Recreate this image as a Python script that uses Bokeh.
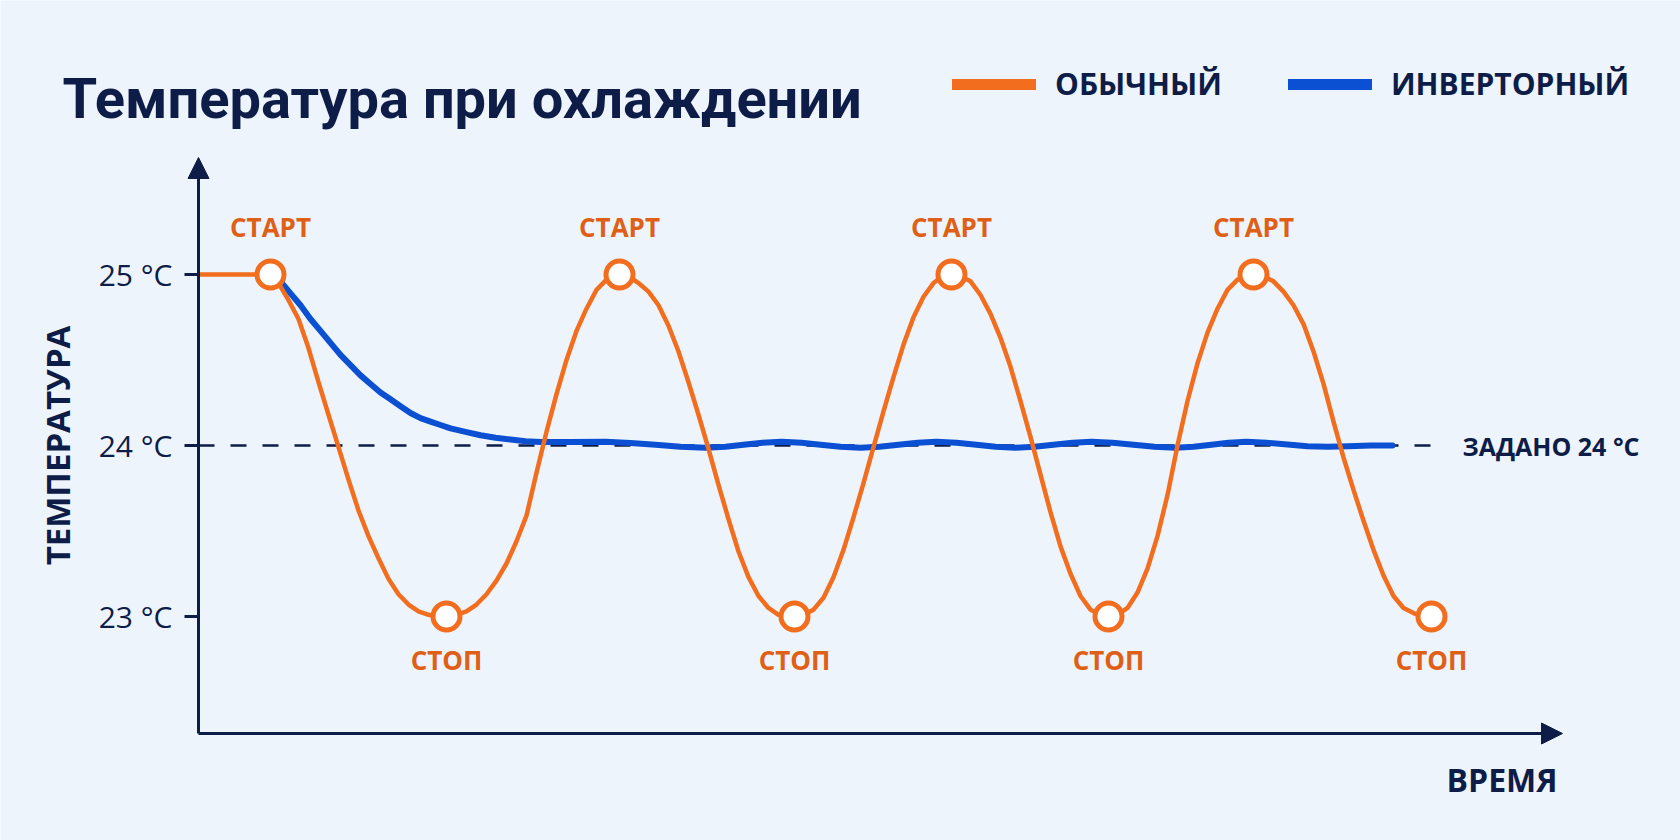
import math
import numpy as np
from bokeh.plotting import figure
from bokeh.models import (Range1d, FixedTicker, Arrow, NormalHead, Label,
                          Legend, LegendItem)
from bokeh.core.properties import value
from bokeh.embed import file_html
from bokeh.resources import INLINE

# ---------------- data ----------------
title_text = "Температура при охлаждении"
series_names = ["ОБЫЧНЫЙ", "ИНВЕРТОРНЫЙ"]
y_axis_title = "ТЕМПЕРАТУРА"
x_axis_title = "ВРЕМЯ"
start_label = "СТАРТ"
stop_label = "СТОП"

temp_ticks = [23, 24, 25]
tick_labels = ["23 °C", "24 °C", "25 °C"]
setpoint = 24
setpoint_time = [0, 124.0]

# conventional (on/off) unit
time_regular = [0, 7.2, 8.0, 9.0, 10.0, 11.0, 12.0, 13.0, 14.0, 15.0, 16.0, 17.0,
                18.0, 19.0, 20.0, 21.0, 22.0, 23.0, 24.0, 24.8,
                25.8, 26.8, 27.8, 28.8, 29.8, 30.8, 31.8, 32.8, 33.8, 34.8,
                35.8, 36.8, 37.8, 38.8, 39.8, 40.8, 41.5, 42.1,
                43.0, 44.0, 45.0, 46.0, 47.0, 48.0, 49.0, 50.0, 51.0, 52.0,
                53.0, 54.0, 55.0, 56.0, 57.0, 58.0, 59.6,
                60.5, 61.5, 62.5, 63.5, 64.5, 65.5, 66.5, 67.5, 68.5, 69.5,
                70.5, 71.5, 72.5, 73.5, 74.4, 75.3,
                76.2, 77.2, 78.2, 79.2, 80.2, 81.2, 82.2, 83.2, 84.2, 85.2,
                86.2, 87.2, 88.2, 89.2, 90.1, 91.0,
                91.9, 92.9, 93.9, 94.9, 95.9, 96.9, 97.9, 98.9, 99.9, 100.9,
                101.9, 102.9, 103.9, 104.7, 105.5,
                106.5, 107.5, 108.5, 109.5, 110.5, 111.5, 112.5, 113.5, 114.5,
                115.5, 116.5, 117.5, 118.5, 119.5, 120.5, 121.5, 122.4, 123.3]
temp_regular = [25.0, 25.0, 24.95, 24.85, 24.74, 24.57, 24.37, 24.18, 23.99, 23.80,
                23.62, 23.47, 23.34, 23.22, 23.13, 23.07, 23.03, 23.01, 23.0, 23.0,
                23.01, 23.03, 23.07, 23.13, 23.21, 23.31, 23.44, 23.59, 23.84, 24.08,
                24.30, 24.50, 24.67, 24.80, 24.91, 24.97, 24.99, 25.0,
                24.99, 24.95, 24.90, 24.82, 24.70, 24.55, 24.37, 24.18, 23.98, 23.77,
                23.57, 23.38, 23.23, 23.12, 23.05, 23.01, 23.0,
                23.01, 23.04, 23.11, 23.23, 23.39, 23.58, 23.78, 23.99, 24.20, 24.40,
                24.59, 24.75, 24.87, 24.95, 24.99, 25.0,
                24.99, 24.96, 24.88, 24.77, 24.63, 24.46, 24.26, 24.05, 23.83, 23.61,
                23.41, 23.25, 23.12, 23.04, 23.01, 23.0,
                23.01, 23.05, 23.14, 23.28, 23.47, 23.71, 24.0, 24.26, 24.48, 24.66,
                24.80, 24.91, 24.97, 24.99, 25.0,
                24.99, 24.96, 24.90, 24.82, 24.71, 24.55, 24.36, 24.14, 23.93,
                23.74, 23.56, 23.39, 23.24, 23.12, 23.05, 23.02, 23.0, 23.0]

start_time = [7.2, 42.1, 75.3, 105.5]
start_temp = [25, 25, 25, 25]
stop_time = [24.8, 59.6, 91.0, 123.3]
stop_temp = [23, 23, 23, 23]

# inverter unit
time_inverter = [7.2, 8.2, 9.2, 10.2, 11.2, 12.2, 13.2, 14.2, 15.2, 16.2, 17.2,
                 18.2, 19.2, 20.2, 21.2, 22.2, 23.2, 24.2, 25.2, 26.7, 28.2,
                 29.7, 31.2, 32.7, 34.2, 37.2, 40.7, 43.2, 45.7, 48.2, 50.7,
                 52.7, 54.5, 56.4, 58.3, 60.3, 62.2, 64.2, 66.2, 68.1, 70.0,
                 71.9, 73.8, 75.8, 77.8, 79.7, 81.7, 83.6, 85.5, 87.4, 89.3,
                 91.4, 93.5, 95.6, 97.7, 99.5, 101.3, 103.0, 104.8, 106.8, 108.9,
                 110.9, 112.9, 115.0, 117.2, 119.4]
temp_inverter = [25.0, 24.96, 24.89, 24.82, 24.74, 24.67, 24.60, 24.53, 24.47, 24.41, 24.36,
                 24.31, 24.27, 24.23, 24.19, 24.16, 24.14, 24.12, 24.10, 24.08, 24.06,
                 24.045, 24.035, 24.025, 24.02, 24.02, 24.022, 24.015, 24.004, 23.993, 23.987,
                 23.993, 24.005, 24.016, 24.022, 24.016, 24.004, 23.993, 23.987, 23.993, 24.005,
                 24.016, 24.022, 24.016, 24.004, 23.993, 23.987, 23.993, 24.005, 24.016, 24.022,
                 24.016, 24.004, 23.993, 23.987, 23.993, 24.005, 24.016, 24.022, 24.016, 24.006,
                 23.996, 23.992, 23.996, 24.0, 24.0]

# ---------------- styling / layout ----------------
BG = "#edf4fb"
NAVY = "#0e1c48"
ORANGE = "#f26d1d"
ORANGE_TXT = "#e05f17"
BLUE = "#0b4fd3"
FONT = "Open Sans"
TITLE_FONT = "Roboto"

W, H = 1680, 840
AXIS_X_PX, AXIS_Y_PX = 198, 733      # where the two axes sit on the page
PX_PER_T = 10.0
PX_PER_DEG = 171.0
Y24_PX = 445


def t_at(px):
    return (px - AXIS_X_PX) / PX_PER_T


def v_at(py):
    return 24 + (Y24_PX - py) / PX_PER_DEG


p = figure(width=W, height=H, output_backend="svg", toolbar_location=None,
           x_range=Range1d(t_at(0), t_at(W)),
           y_range=Range1d(v_at(H), v_at(0)),
           min_border=0, min_border_left=0, min_border_right=0,
           min_border_top=0, min_border_bottom=0)
p.background_fill_color = BG
p.border_fill_color = BG
p.outline_line_color = None
p.grid.visible = False

# x axis
xa = p.xaxis[0]
xa.fixed_location = v_at(AXIS_Y_PX)
xa.ticker = FixedTicker(ticks=[])
xa.bounds = (0, t_at(1540))
xa.axis_line_color = NAVY
xa.axis_line_width = 3
xa.major_tick_line_color = None
xa.minor_tick_line_color = None
xa.major_label_text_font_size = "0px"

# y axis
ya = p.yaxis[0]
ya.fixed_location = 0
ya.ticker = FixedTicker(ticks=temp_ticks)
ya.major_label_overrides = {t: l for t, l in zip(temp_ticks, tick_labels)}
ya.bounds = (v_at(AXIS_Y_PX), v_at(175))
ya.axis_line_color = NAVY
ya.axis_line_width = 3
ya.major_tick_line_color = NAVY
ya.major_tick_line_width = 3
ya.major_tick_out = 14
ya.major_tick_in = 0
ya.minor_tick_line_color = None
ya.major_label_standoff = 12
ya.major_label_text_font = FONT
ya.major_label_text_font_size = "30px"
ya.major_label_text_color = NAVY

# arrow heads
p.add_layout(Arrow(end=NormalHead(size=21, fill_color=NAVY, line_color=NAVY),
                   x_start=0, y_start=v_at(185), x_end=0, y_end=v_at(157),
                   line_color=NAVY, line_width=3))
p.add_layout(Arrow(end=NormalHead(size=21, fill_color=NAVY, line_color=NAVY),
                   x_start=t_at(1520), y_start=v_at(AXIS_Y_PX), x_end=t_at(1562),
                   y_end=v_at(AXIS_Y_PX), line_color=NAVY, line_width=3))

# setpoint dashed line
p.line(setpoint_time, [setpoint] * len(setpoint_time), line_color=NAVY,
       line_width=2.5, line_dash="16 16")

# series
p.line(time_inverter, temp_inverter, line_color=BLUE, line_width=6,
       line_cap="round", line_join="round")
p.line(time_regular, temp_regular, line_color=ORANGE, line_width=4.5,
       line_cap="round", line_join="round")
p.scatter(start_time, start_temp, marker="circle", size=27, fill_color="white",
          line_color=ORANGE, line_width=5)
p.scatter(stop_time, stop_temp, marker="circle", size=27, fill_color="white",
          line_color=ORANGE, line_width=5)

p.text(x=start_time, y=start_temp, text=[start_label] * len(start_time),
       text_font=value(FONT), text_font_style="bold", text_font_size="26px",
       text_color=ORANGE_TXT, text_align="center", text_baseline="middle",
       y_offset=-48)
p.text(x=stop_time, y=stop_temp, text=[stop_label] * len(stop_time),
       text_font=value(FONT), text_font_style="bold", text_font_size="26px",
       text_color=ORANGE_TXT, text_align="center", text_baseline="middle",
       y_offset=43)

# setpoint label
p.add_layout(Label(x=t_at(1462), y=setpoint, text=f"ЗАДАНО {setpoint} °C",
                   text_font=FONT, text_font_style="bold", text_font_size="25px",
                   text_color=NAVY, text_align="left", text_baseline="middle"))

# title
p.add_layout(Label(x=t_at(62), y=v_at(98), text=title_text, text_font=TITLE_FONT,
                   text_font_style="bold", text_font_size="56px", text_color=NAVY,
                   text_align="left", text_baseline="alphabetic"))

# axis titles
p.add_layout(Label(x=t_at(57), y=v_at(445), text=y_axis_title, angle=math.pi / 2,
                   text_font=FONT, text_font_style="bold", text_font_size="33px",
                   text_color=NAVY, text_align="center", text_baseline="middle"))
p.add_layout(Label(x=t_at(1557), y=v_at(779), text=x_axis_title, text_font=FONT,
                   text_font_style="bold", text_font_size="32px", text_color=NAVY,
                   text_align="right", text_baseline="middle"))

# legend (thick bars); the swatch renderers hold no drawable points
nan2 = np.array([np.nan, np.nan])
leg_o = p.line(nan2, nan2, line_color=ORANGE, line_width=11, line_cap="round")
leg_b = p.line(nan2, nan2, line_color=BLUE, line_width=11, line_cap="round")
legend = Legend(items=[LegendItem(label=series_names[0], renderers=[leg_o]),
                       LegendItem(label=series_names[1], renderers=[leg_b])],
                orientation="horizontal", location=(952, H - 84 - 20),
                glyph_width=84, glyph_height=40, label_height=40,
                label_standoff=19, spacing=66, padding=0, margin=0,
                label_text_font=FONT, label_text_font_style="bold",
                label_text_font_size="30px", label_text_color=NAVY,
                background_fill_alpha=0, border_line_alpha=0)
p.add_layout(legend)

open("out.html", "w").write(file_html(p, INLINE))
